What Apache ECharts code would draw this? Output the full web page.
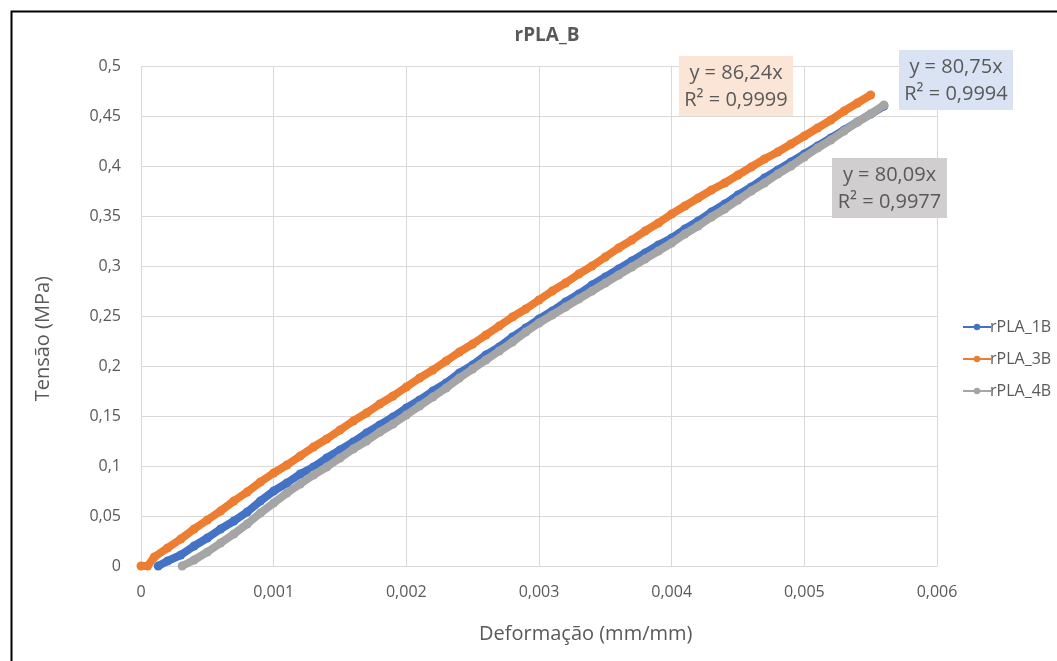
<!DOCTYPE html>
<html>
<head>
<meta charset="utf-8">
<script src="https://cdn.jsdelivr.net/npm/echarts@6/dist/echarts.min.js"></script>
<style>
html,body{margin:0;padding:0;background:#fff;}
#chart{width:1057px;height:661px;}
</style>
</head>
<body>
<div id="chart"></div>
<script>
// ---- data ----
const title = "rPLA_B";
const seriesNames = ["rPLA_1B", "rPLA_3B", "rPLA_4B"];
const xTicks = [0, 0.001, 0.002, 0.003, 0.004, 0.005, 0.006];
const yTicks = [0, 0.05, 0.1, 0.15, 0.2, 0.25, 0.3, 0.35, 0.4, 0.45, 0.5];

const strain1B = [0.00013,0.0002,0.0003,0.0004,0.0005,0.0006,0.0007,0.0008,0.0009,0.0010,0.0011,0.0012,0.0013,0.0014,0.0015,0.0016,0.0017,0.0018,0.0019,0.0020,0.0021,0.0022,0.0023,0.0024,0.0025,0.0026,0.0027,0.0028,0.0029,0.0030,0.0031,0.0032,0.0033,0.0034,0.0035,0.0036,0.0037,0.0038,0.0039,0.0040,0.0041,0.0042,0.0043,0.0044,0.0045,0.0046,0.0047,0.0048,0.0049,0.0050,0.0051,0.0052,0.0053,0.0054,0.0055,0.0056];
const stress1B = [0,0.005,0.011,0.020,0.028,0.037,0.045,0.054,0.065,0.075,0.083,0.092,0.099,0.108,0.116,0.124,0.133,0.141,0.149,0.158,0.166,0.175,0.183,0.193,0.201,0.211,0.219,0.229,0.238,0.247,0.255,0.264,0.272,0.281,0.289,0.297,0.305,0.313,0.321,0.328,0.337,0.345,0.354,0.362,0.371,0.379,0.388,0.396,0.404,0.412,0.420,0.428,0.436,0.444,0.452,0.460];

const strain3B = [0,0.00005,0.0001,0.0002,0.0003,0.0004,0.0005,0.0006,0.0007,0.0008,0.0009,0.0010,0.0011,0.0012,0.0013,0.0014,0.0015,0.0016,0.0017,0.0018,0.0019,0.0020,0.0021,0.0022,0.0023,0.0024,0.0025,0.0026,0.0027,0.0028,0.0029,0.0030,0.0031,0.0032,0.0033,0.0034,0.0035,0.0036,0.0037,0.0038,0.0039,0.0040,0.0041,0.0042,0.0043,0.0044,0.0045,0.0046,0.0047,0.0048,0.0049,0.0050,0.0051,0.0052,0.0053,0.0054,0.0055];
const stress3B = [0,0,0.009,0.018,0.027,0.037,0.046,0.055,0.065,0.074,0.084,0.093,0.101,0.110,0.119,0.127,0.136,0.145,0.153,0.162,0.170,0.179,0.188,0.196,0.205,0.214,0.222,0.231,0.240,0.249,0.257,0.266,0.275,0.283,0.292,0.300,0.309,0.318,0.326,0.335,0.343,0.352,0.360,0.368,0.376,0.383,0.391,0.399,0.407,0.414,0.422,0.430,0.438,0.446,0.455,0.463,0.471];

const strain4B = [0.00031,0.0004,0.0005,0.0006,0.0007,0.0008,0.0009,0.0010,0.0011,0.0012,0.0013,0.0014,0.0015,0.0016,0.0017,0.0018,0.0019,0.0020,0.0021,0.0022,0.0023,0.0024,0.0025,0.0026,0.0027,0.0028,0.0029,0.0030,0.0031,0.0032,0.0033,0.0034,0.0035,0.0036,0.0037,0.0038,0.0039,0.0040,0.0041,0.0042,0.0043,0.0044,0.0045,0.0046,0.0047,0.0048,0.0049,0.0050,0.0051,0.0052,0.0053,0.0054,0.0055,0.0056];
const stress4B = [0,0.006,0.014,0.023,0.032,0.042,0.053,0.063,0.073,0.082,0.091,0.099,0.108,0.117,0.125,0.134,0.142,0.151,0.160,0.169,0.178,0.188,0.197,0.206,0.215,0.224,0.234,0.243,0.251,0.259,0.267,0.275,0.283,0.291,0.299,0.307,0.315,0.323,0.332,0.340,0.349,0.357,0.366,0.375,0.383,0.392,0.400,0.409,0.418,0.426,0.435,0.444,0.452,0.461];

const trendLabels = [
  {eq: "y = 80,75x", r2: "R² = 0,9994"},
  {eq: "y = 86,24x", r2: "R² = 0,9999"},
  {eq: "y = 80,09x", r2: "R² = 0,9977"}
];

// ---- chart ----
const colors = ["#4472c4", "#ed7d31", "#a5a5a5"];
const txt = "#595959";
const font = "'Open Sans', 'Noto Sans', sans-serif";
function pairs(xs, ys){ return xs.map((x,i)=>[x, ys[i]]); }
function fmt(v){ return String(+Number(v).toFixed(4)).replace('.', ','); }

const chart = echarts.init(document.getElementById('chart'));
const seriesData = [pairs(strain1B, stress1B), pairs(strain3B, stress3B), pairs(strain4B, stress4B)];

function box(x, y, w, h, fill, lab){
  return [
    {type:'rect', left:x, top:y, z:100, shape:{x:0,y:0,width:w,height:h}, style:{fill:fill}},
    {type:'text', x:x + w/2, y:y + 17, z:101, style:{text:lab.eq, fill:txt, font:"20px " + font, align:'center', verticalAlign:'middle'}},
    {type:'text', x:x + w/2, y:y + 44, z:101, style:{text:lab.r2, fill:txt, font:"20px " + font, align:'center', verticalAlign:'middle'}}
  ];
}

chart.setOption({
  animation: false,
  backgroundColor: '#fff',
  color: colors,
  title: {
    text: title, left: 542, top: 21, textAlign: 'center',
    textStyle: {color: txt, fontSize: 19, fontWeight: 'bold', fontFamily: font}
  },
  grid: {left: 141, right: 120, top: 66, bottom: 95, containLabel: false},
  legend: {
    orient: 'vertical', left: 957, top: 314, itemGap: 16,
    itemWidth: 28, itemHeight: 8,
    lineStyle: {width: 2},
    textStyle: {color: txt, fontSize: 16, fontFamily: font, padding: [0,0,0,-6]},
    data: seriesNames
  },
  xAxis: {
    type: 'value', min: xTicks[0], max: xTicks[xTicks.length-1], interval: xTicks[1]-xTicks[0],
    axisLine: {show: true, onZero: false, lineStyle: {color: '#d9d9d9', width: 1}},
    axisTick: {show: false},
    splitLine: {show: true, lineStyle: {color: '#d9d9d9', width: 1}},
    axisLabel: {color: txt, fontSize: 16, fontFamily: font, margin: 18, formatter: fmt}
  },
  yAxis: {
    type: 'value', min: yTicks[0], max: yTicks[yTicks.length-1], interval: yTicks[1]-yTicks[0],
    axisLine: {show: false},
    axisTick: {show: false},
    splitLine: {show: true, lineStyle: {color: '#d9d9d9', width: 1}},
    axisLabel: {color: txt, fontSize: 16, fontFamily: font, margin: 20, formatter: fmt}
  },
  series: seriesNames.map((n, i) => ({
    name: n, type: 'line', data: seriesData[i],
    symbol: 'circle', symbolSize: 9, showSymbol: true,
    lineStyle: {width: 8, color: colors[i]},
    itemStyle: {color: colors[i]},
    z: 2 + i
  })),
  graphic: [
    {type:'rect', left: 9, top: 9, z: 200, shape:{x:0,y:0,width:1100,height:700}, style:{fill:'none', stroke:'#000', lineWidth:2}},
    {type:'text', left: 479, top: 624, z: 100, style:{text:"Deformação (mm/mm)", fill:txt, font:"20px " + font}},
    {type:'text', left: 33, top: 276, rotation: Math.PI/2, z: 100, style:{text:"Tensão (MPa)", fill:txt, font:"20px " + font}}
  ].concat(
    box(679, 56, 114, 60, '#fbe5d6', trendLabels[1]),
    box(899, 50, 114, 60, '#dae3f3', trendLabels[0]),
    box(832, 158, 115, 60, '#d0cece', trendLabels[2])
  )
});
</script>
</body>
</html>
